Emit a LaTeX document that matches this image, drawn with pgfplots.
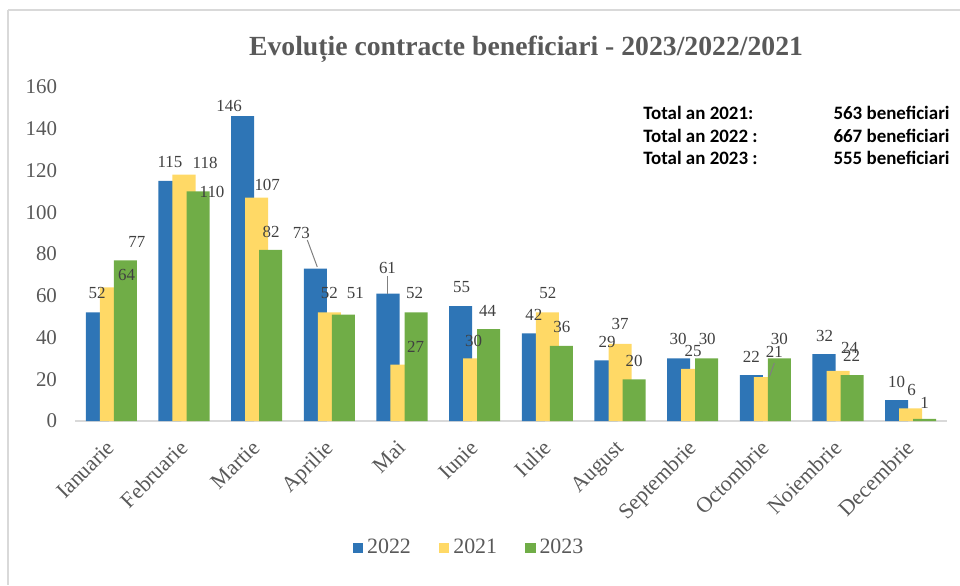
\documentclass[border=0pt]{standalone}
\usepackage{pgfplots}
\pgfplotsset{compat=1.18}
\usepackage{fontspec}
\setmainfont{Liberation Serif}
\newfontfamily\calibri{Carlito}
\definecolor{cblue}{HTML}{2E75B6}
\definecolor{cyellow}{HTML}{FFD966}
\definecolor{cgreen}{HTML}{70AD47}
\definecolor{txt}{HTML}{595959}
\definecolor{lbl}{HTML}{404040}
\definecolor{frm}{HTML}{D9D9D9}
\begin{document}
\begin{tikzpicture}[x=1bp,y=1bp]
\path[use as bounding box] (0,0) rectangle (480,292.5);
\draw[frm, line width=0.8bp] (4,287.5) -- (480,287.5);
\draw[frm, line width=0.8bp] (4,287.5) -- (4,0);
\node[font=\bfseries\fontsize{13.9}{17}\selectfont, text=txt] at (263,268) {Evoluție contracte beneficiari - 2023/2022/2021};
\begin{scope}[font=\calibri\bfseries\fontsize{9.5}{11}\selectfont, inner sep=0pt]
\node[anchor=base west] at (321.5,233) {Total an 2021:};
\node[anchor=base west] at (321.5,221.5) {Total an 2022 :};
\node[anchor=base west] at (321.5,210.5) {Total an 2023 :};
\node[anchor=base east] at (475,233) {563 beneficiari};
\node[anchor=base east] at (475,221.5) {667 beneficiari};
\node[anchor=base east] at (475,210.5) {555 beneficiari};
\end{scope}
\begin{axis}[
  at={(37.5bp,82bp)}, anchor=south west,
  scale only axis, width=436bp, height=167bp,
  xmin=-0.5, xmax=11.5, ymin=0, ymax=160,
  axis line style={draw=none},
  major tick length=0pt,
  /pgf/number format/assume math mode=true,
  ytick={0,20,...,160},
  yticklabel style={font=\fontsize{10.5}{12}\selectfont, text=txt, xshift=-5.5bp},
  xtick={0,...,11},
  xticklabels={Ianuarie,Februarie,Martie,Aprilie,Mai,Iunie,Iulie,August,Septembrie,Octombrie,Noiembrie,Decembrie},
  xticklabel style={rotate=45, anchor=north east, font=\fontsize{11}{13}\selectfont, text=txt, xshift=-4.85bp, yshift=-0.75bp},
  legend style={at={(0.453,-0.38)}, anchor=center, legend columns=-1, draw=none, fill=none,
    font=\fontsize{11}{13}\selectfont, text=txt,
    /tikz/every even column/.append style={column sep=12bp}},
  legend image code/.code={\fill[#1] (0bp,-2.6bp) rectangle (5.2bp,2.6bp);},
  every node near coord/.append style={font=\fontsize{8.5}{10}\selectfont, text=lbl},
  clip=false,
]
\draw[frm, line width=0.8bp] (axis cs:-0.5,0) -- (axis cs:11.5,0);
\addplot[ybar, bar width=0.317, bar shift=-0.193, fill=cblue, draw=none] coordinates {
(0,52)(1,115)(2,146)(3,73)(4,61)(5,55)(6,42)(7,29)(8,30)(9,22)(10,32)(11,10)};
\addlegendentry{2022}
\addplot[ybar, bar width=0.317, bar shift=0, fill=cyellow, draw=none] coordinates {
(0,64)(1,118)(2,107)(3,52)(4,27)(5,30)(6,52)(7,37)(8,25)(9,21)(10,24)(11,6)};
\addlegendentry{2021}
\addplot[ybar, bar width=0.317, bar shift=0.193, fill=cgreen, draw=none] coordinates {
(0,77)(1,110)(2,82)(3,51)(4,52)(5,44)(6,36)(7,20)(8,30)(9,30)(10,22)(11,1)};
\addlegendentry{2023}
% data labels, positioned as in the reference
\addplot[draw=none, mark=none, forget plot, nodes near coords, point meta=explicit symbolic,
  nodes near coords align={anchor=center}] coordinates {
(-0.196,61.3)[52] (0.21,69.9)[64] (0.35,85.7)[77]
(0.807,124.1)[115] (1.29,123.6)[118] (1.386,109.7)[110]
(1.621,150.9)[146] (2.145,113.1)[107] (2.2,90.5)[82]
(2.614,90.1)[73] (3.0,61.3)[52] (3.359,61.3)[51]
(3.8,73.3)[61] (4.172,61.3)[52] (4.186,35.4)[27]
(4.821,64.2)[55] (4.986,38.3)[30] (5.179,52.7)[44]
(5.814,50.8)[42] (6.007,61.3)[52] (6.2,45.0)[36]
(6.821,37.8)[29] (7.0,46.5)[37] (7.193,28.7)[20]
(7.8,39.3)[30] (8.007,33.5)[25] (8.2,39.3)[30]
(8.807,30.7)[22] (9.124,33.1)[21] (9.193,39.3)[30]
(9.814,40.7)[32] (10.159,35)[24] (10.186,31.1)[22]
(10.807,18.7)[10] (11.014,14.9)[6] (11.193,8.6)[1]
};
\draw[gray, line width=0.5bp] (axis cs:2.697,86.7) -- (axis cs:2.834,73.8);
\draw[gray, line width=0.5bp] (axis cs:3.8,69.5) -- (axis cs:3.8,60.8);
\draw[gray, line width=0.5bp] (axis cs:9.124,27.8) -- (axis cs:9.055,21.1);
\end{axis}
\end{tikzpicture}
\end{document}
